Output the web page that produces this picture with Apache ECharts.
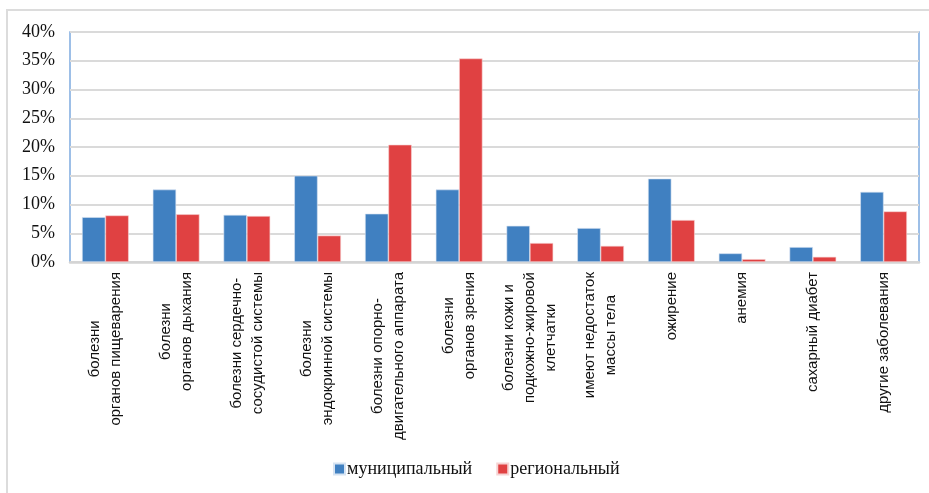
<!DOCTYPE html>
<html>
<head>
<meta charset="utf-8">
<script src="https://cdn.jsdelivr.net/npm/echarts@6/dist/echarts.min.js"></script>
<style>
  html, body { margin: 0; padding: 0; background: #fff; }
  #chart { width: 929px; height: 493px; }
</style>
</head>
<body>
<div id="chart"></div>
<script>
// categories (line breaks as in the picture)
const categories = [
  'болезни\nорганов пищеварения',
  'болезни\nорганов дыхания',
  'болезни сердечно-\nсосудистой системы',
  'болезни\nэндокринной системы',
  'болезни опорно-\nдвигательного аппарата',
  'болезни\nорганов зрения',
  'болезни кожи и\nподкожно-жировой\nклетчатки',
  'имеют недостаток\nмассы тела',
  'ожирение',
  'анемия',
  'сахарный диабет',
  'другие заболевания'
];
const seriesNames = ['муниципальный', 'региональный'];
// values in %
const municipal = [7.8, 12.6, 8.2, 15.0, 8.4, 12.6, 6.3, 5.9, 14.5, 1.5, 2.6, 12.2];
const regional = [8.1, 8.3, 8.0, 4.6, 20.4, 35.4, 3.3, 2.8, 7.3, 0.5, 0.9, 8.8];

const labelFont = '"Liberation Sans", Arial, sans-serif';
const labelSize = 15;

// lines of each label are centred against each other (like Excel does),
// so every line gets right padding = half of what it is short of the longest one
var ctx = document.createElement('canvas').getContext('2d');
ctx.font = labelSize + 'px ' + labelFont;
var rich = {};
var labelText = {};
categories.forEach(function (cat, i) {
  var lines = cat.split('\n');
  var widths = lines.map(function (l) { return ctx.measureText(l).width; });
  var maxW = Math.max.apply(null, widths);
  labelText[cat] = lines.map(function (l, j) {
    var key = 'a' + i + 'b' + j;
    rich[key] = {
      lineHeight: 21,
      backgroundColor: 'rgba(255,255,255,0)',
      padding: [0, (maxW - widths[j]) / 2, 0, 0]
    };
    return '{' + key + '|' + l + '}';
  }).join('\n');
});

var chartDom = document.getElementById('chart');
var myChart = echarts.init(chartDom);

var option = {
  backgroundColor: '#fff',
  animation: false,
  graphic: [
    {
      type: 'rect',
      shape: { x: 7, y: 10, width: 940, height: 500 },
      style: { fill: 'none', stroke: '#dcdcdc', lineWidth: 2 },
      silent: true
    }
  ],
  legend: {
    left: 333,
    top: 460,
    padding: 0,
    itemWidth: 11,
    itemHeight: 11,
    itemGap: 24,
    icon: 'rect',
    textStyle: {
      fontFamily: '"Liberation Serif", "DejaVu Serif", serif',
      fontSize: 18,
      color: '#111',
      padding: [0, 0, 0, -3]
    },
    data: seriesNames
  },
  grid: {
    left: 70,
    right: 10,
    top: 32,
    bottom: 231,
    show: true,
    borderColor: '#7eaadf',
    borderWidth: 1.5,
    containLabel: false
  },
  xAxis: {
    type: 'category',
    data: categories,
    axisLine: { show: true, lineStyle: { color: '#d4d4d4', width: 2.5 } },
    axisTick: { show: false },
    axisLabel: {
      interval: 0,
      rotate: 90,
      margin: 10,
      lineHeight: 21,
      fontFamily: labelFont,
      fontSize: labelSize,
      color: '#111',
      formatter: function (v) {
        return labelText[v];
      },
      rich: rich
    }
  },
  yAxis: {
    type: 'value',
    min: 0,
    max: 40,
    interval: 5,
    axisLine: { show: false },
    axisTick: { show: false },
    splitLine: { lineStyle: { color: '#dadada', width: 2 } },
    axisLabel: {
      margin: 15,
      formatter: '{value}%',
      fontFamily: '"Liberation Serif", "DejaVu Serif", serif',
      fontSize: 18,
      color: '#111'
    }
  },
  series: [
    {
      name: seriesNames[0],
      type: 'bar',
      data: municipal,
      barGap: 0,
      barCategoryGap: '34%',
      itemStyle: { color: '#4080c1', borderColor: '#d6e3f2', borderWidth: 0.6 }
    },
    {
      name: seriesNames[1],
      type: 'bar',
      data: regional,
      itemStyle: { color: '#e04142', borderColor: '#f6d3d3', borderWidth: 0.6 }
    }
  ]
};

option && myChart.setOption(option);
</script>
</body>
</html>
